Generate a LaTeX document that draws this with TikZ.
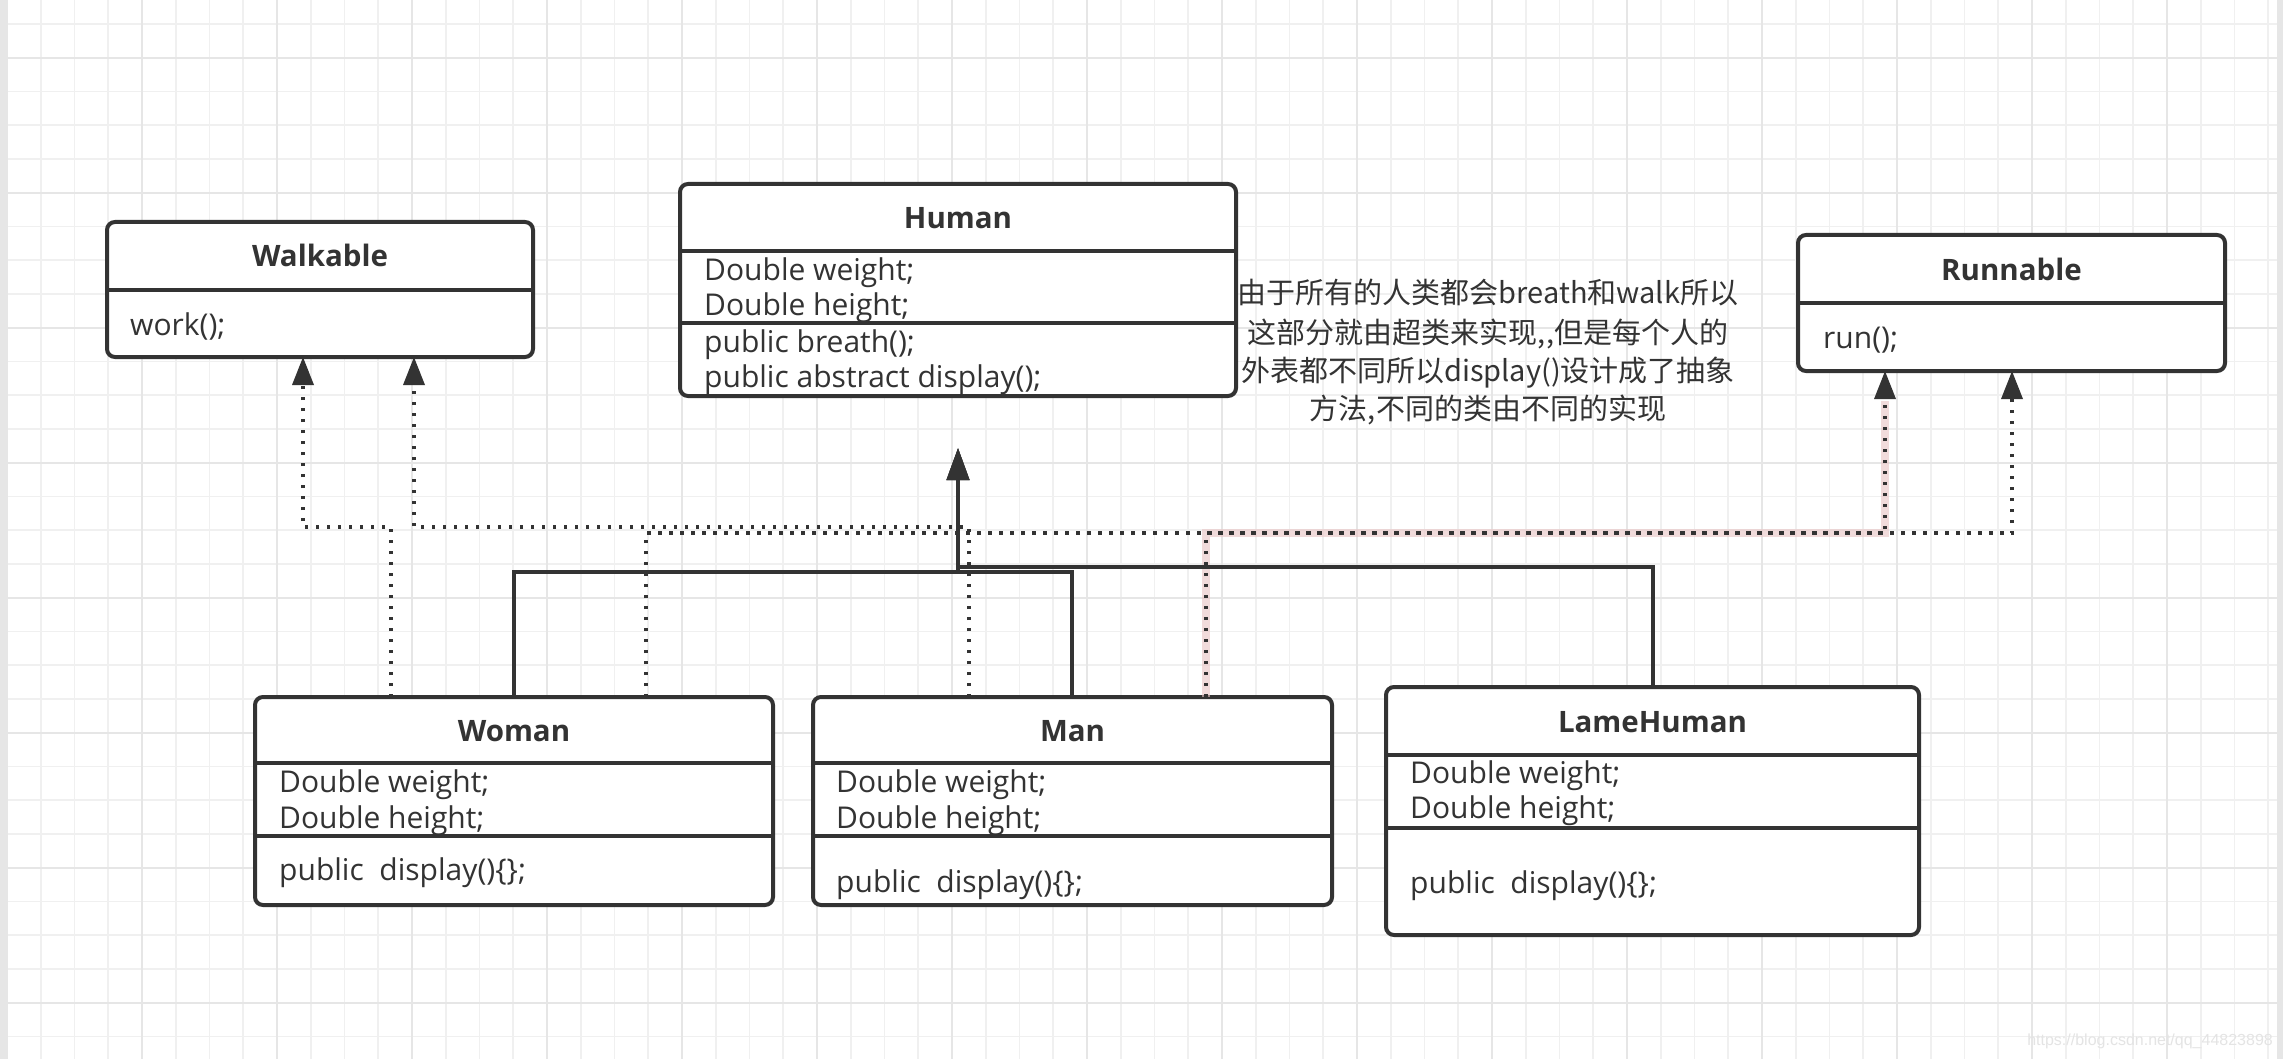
\documentclass[tikz,border=0pt]{standalone}
\usepackage{fontspec}
\setmainfont{Open Sans}
\newfontfamily\cjk{Noto Sans CJK SC}
\newfontfamily\wmfont{Liberation Sans}
\usetikzlibrary{arrows.meta}
\definecolor{ink}{HTML}{333333}
\definecolor{gridminor}{HTML}{F0F0F0}
\definecolor{gridmajor}{HTML}{E6E6E6}
\definecolor{halo}{HTML}{E8C4C4}
\definecolor{wmark}{HTML}{E4E4E4}
\tikzset{
  umlbox/.style={draw=ink, line width=4pt, rounded corners=8pt, fill=white, inner sep=0pt, outer sep=0pt, anchor=north west},
  divider/.style={draw=ink, line width=4pt},
  titletext/.style={anchor=base, inner sep=0pt, text=ink, font=\bfseries\fontsize{29.5}{34}\selectfont},
  member/.style={anchor=base west, inner sep=0pt, text=ink, font=\fontsize{30}{36}\selectfont},
  notetext/.style={anchor=base, inner sep=0pt, text=ink, font=\cjk\fontsize{29}{36}\selectfont},
  realize/.style={draw=ink, line width=3.5pt, dash pattern=on 3.5pt off 7.5pt, -{Triangle[length=28pt,width=21pt]}},
  halopath/.style={draw=halo, line width=8pt, opacity=0.6},
  generalize/.style={draw=ink, line width=4pt, -{Triangle[length=32pt,width=22pt]}},
}
\begin{document}
\begin{tikzpicture}[x=1pt,y=1pt]
\useasboundingbox (0,0) rectangle (2283,-1059);
\fill[white] (0,0) rectangle (2283,-1059);
% grid
\foreach \i in {0,...,67} \draw[gridminor, line width=1.6pt] (7+33.75*\i,0) -- (7+33.75*\i,-1059);
\foreach \j in {-1,...,31} \draw[gridminor, line width=1.6pt] (0,-24-33.75*\j) -- (2283,-24-33.75*\j);
\foreach \i in {0,...,16} \draw[gridmajor, line width=1.8pt] (7+135*\i,0) -- (7+135*\i,-1059);
\foreach \j in {0,...,7} \draw[gridmajor, line width=1.8pt] (0,-58-135*\j) -- (2283,-58-135*\j);
\fill[gridmajor] (0,0) rectangle (6,-1059);
\fill[gridmajor] (2277,0) rectangle (2283,-1059);

% boxes
\node[umlbox, minimum width=426pt, minimum height=135pt] (walkable) at (107,-222) {};
\node[umlbox, minimum width=556pt, minimum height=212pt] (human) at (680,-184) {};
\node[umlbox, minimum width=427pt, minimum height=136pt] (runnable) at (1798,-235) {};
\node[umlbox, minimum width=518pt, minimum height=208pt] (woman) at (255,-697) {};
\node[umlbox, minimum width=519pt, minimum height=208pt] (man) at (813,-697) {};
\node[umlbox, minimum width=533pt, minimum height=248pt] (lame) at (1386,-687) {};

% dividers
\draw[divider] (walkable.west |- 0,-290) -- (walkable.east |- 0,-290);
\draw[divider] (human.west |- 0,-251) -- (human.east |- 0,-251);
\draw[divider] (human.west |- 0,-323) -- (human.east |- 0,-323);
\draw[divider] (runnable.west |- 0,-303) -- (runnable.east |- 0,-303);
\draw[divider] (woman.west |- 0,-763) -- (woman.east |- 0,-763);
\draw[divider] (woman.west |- 0,-836) -- (woman.east |- 0,-836);
\draw[divider] (man.west |- 0,-763) -- (man.east |- 0,-763);
\draw[divider] (man.west |- 0,-836) -- (man.east |- 0,-836);
\draw[divider] (lame.west |- 0,-755) -- (lame.east |- 0,-755);
\draw[divider] (lame.west |- 0,-828) -- (lame.east |- 0,-828);

% texts
\node[titletext] (walkableT) at (320,-267) {Walkable};
\node[member] (walkableM) at (130,-335) {work();};

\node[titletext] (humanT) at (958,-229) {Human};
\node[member] (humanA) at (704,-280) {Double weight;};
\node[member] (humanB) at (704,-316) {Double height;};
\node[member] (humanC) at (704,-352) {public breath();};
\node[member] (humanD) at (704,-387) {public abstract display();};

\node[titletext] (runnableT) at (2011.5,-280) {Runnable};
\node[member] (runnableM) at (1823,-348) {run();};

\node[titletext] (womanT) at (514,-741) {Woman};
\node[member] (womanA) at (279,-792) {Double weight;};
\node[member] (womanB) at (279,-828) {Double height;};
\node[member] (womanC) at (279,-880) {public\ \ display()\{\};};

\node[titletext] (manT) at (1072.5,-741) {Man};
\node[member] (manA) at (836,-792) {Double weight;};
\node[member] (manB) at (836,-828) {Double height;};
\node[member] (manC) at (836,-892) {public\ \ display()\{\};};

\node[titletext] (lameT) at (1652.5,-732) {LameHuman};
\node[member] (lameA) at (1410,-783) {Double weight;};
\node[member] (lameB) at (1410,-818) {Double height;};
\node[member] (lameC) at (1410,-893) {public\ \ display()\{\};};

% note
\node[notetext] (note1) at (1488,-304) {由于所有的人类都会breath和walk所以};
\node[notetext] (note2) at (1488,-343) {这部分就由超类来实现,,但是每个人的};
\node[notetext] (note3) at (1488,-381) {外表都不同所以display()设计成了抽象};
\node[notetext] (note4) at (1488,-419) {方法,不同的类由不同的实现};

% realization connectors (dotted)
\draw[halopath] ([xshift=393pt]man.north west) -- ++(0,164) -| ([xshift=87pt,yshift=-30pt]runnable.south west);
\draw[realize] ([xshift=136pt]woman.north west) -- ++(0,170) -| ([xshift=196pt]walkable.south west);
\draw[realize] ([xshift=156pt]man.north west) -- ++(0,170) -| ([xshift=307pt]walkable.south west);
\draw[realize] ([xshift=391pt]woman.north west) -- ++(0,164) -| ([xshift=214pt]runnable.south west);
\draw[realize] ([xshift=393pt]man.north west) -- ++(0,164) -| ([xshift=87pt]runnable.south west);

% generalization connectors (solid)
\coordinate (gen) at (958,-448);
\draw[generalize] ([xshift=259pt]woman.north west) -- ++(0,125) -| (gen);
\draw[generalize] ([xshift=259pt]man.north west) -- ++(0,125) -| (gen);
\draw[generalize] ([xshift=267pt]lame.north west) -- ++(0,120) -| (gen);

% watermark
\node[anchor=base east, inner sep=0pt, text=wmark, font=\wmfont\fontsize{16}{18}\selectfont] (wm) at (2273,-1045) {https://blog.csdn.net/qq\_44823898};
\end{tikzpicture}
\end{document}
